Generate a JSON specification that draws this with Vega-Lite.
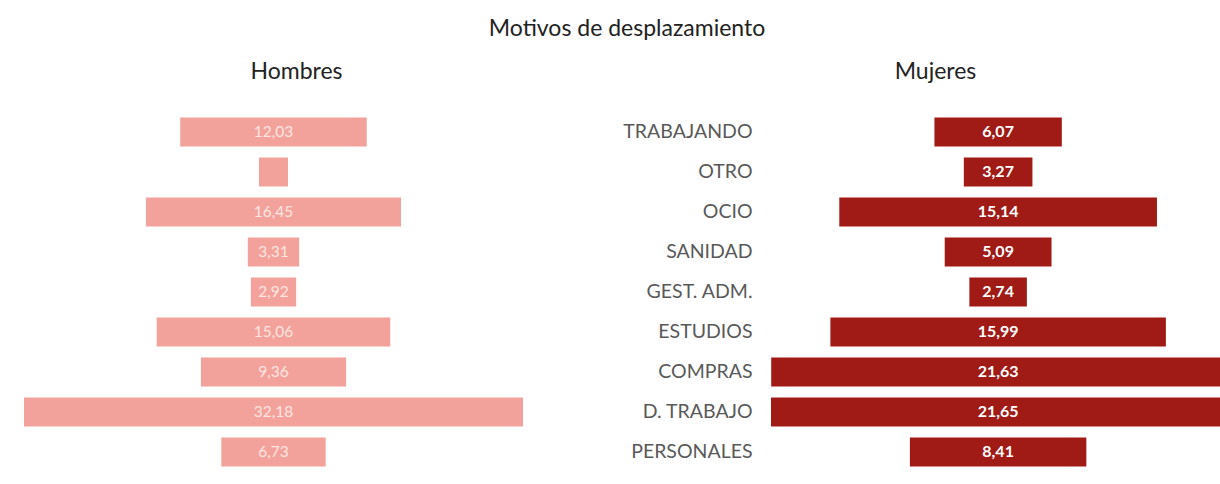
{
  "$schema": "https://vega.github.io/schema/vega-lite/v6.json",
  "padding": {"left": 24, "top": 18, "right": 0, "bottom": 0},
  "background": "white",
  "bounds": "flush",
  "config": {
    "view": {"stroke": null},
    "font": "Lato",
    "locale": {"number": {"decimal": ",", "thousands": ".", "grouping": [3], "currency": ["", " €"]}}
  },
  "title": {"text": "Motivos de desplazamiento", "fontSize": 23, "font": "Lato", "fontWeight": "normal", "color": "#222222", "anchor": "middle", "dx": 5, "offset": 20},
  "data": {"values": [
    {"motivo": "TRABAJANDO", "hombres": 12.03, "mujeres": 6.07},
    {"motivo": "OTRO", "hombres": 1.87, "mujeres": 3.27},
    {"motivo": "OCIO", "hombres": 16.45, "mujeres": 15.14},
    {"motivo": "SANIDAD", "hombres": 3.31, "mujeres": 5.09},
    {"motivo": "GEST. ADM.", "hombres": 2.92, "mujeres": 2.74},
    {"motivo": "ESTUDIOS", "hombres": 15.06, "mujeres": 15.99},
    {"motivo": "COMPRAS", "hombres": 9.36, "mujeres": 21.63},
    {"motivo": "D. TRABAJO", "hombres": 32.18, "mujeres": 21.65},
    {"motivo": "PERSONALES", "hombres": 6.73, "mujeres": 8.41}
  ]},
  "spacing": 248,
  "hconcat": [
    {
      "width": 499,
      "height": 360,
      "title": {"text": "Hombres", "fontSize": 23, "fontWeight": "normal", "color": "#222222", "anchor": "middle", "dx": 23, "offset": 28},
      "encoding": {
        "y": {"field": "motivo", "type": "nominal", "sort": null, "axis": null, "scale": {"paddingInner": 0.27, "paddingOuter": 0.135}}
      },
      "layer": [
        {
          "mark": {"type": "bar", "color": "#f3a29b"},
          "encoding": {
            "x": {"field": "hombres", "type": "quantitative", "stack": "center", "axis": null, "scale": {"domain": [0, 32.18], "nice": false}}
          }
        },
        {
          "transform": [{"filter": "datum.hombres >= 2"}],
          "mark": {"type": "text", "color": "#fde6e2", "fontSize": 15.5, "align": "center", "baseline": "middle"},
          "encoding": {
            "x": {"datum": 16.09, "type": "quantitative"},
            "text": {"field": "hombres", "type": "quantitative", "format": ".2f"}
          }
        }
      ]
    },
    {
      "width": 449,
      "height": 360,
      "title": {"text": "Mujeres", "fontSize": 23, "fontWeight": "normal", "color": "#222222", "anchor": "middle", "dx": -60, "offset": 28},
      "encoding": {
        "y": {"field": "motivo", "type": "nominal", "sort": null, "scale": {"paddingInner": 0.27, "paddingOuter": 0.135},
          "axis": {"title": null, "domain": false, "ticks": false, "labelPadding": 19, "labelFontSize": 19.5, "labelColor": "#595959", "labelFont": "Lato"}}
      },
      "layer": [
        {
          "mark": {"type": "bar", "color": "#a01a16", "clip": true},
          "encoding": {
            "x": {"field": "mujeres", "type": "quantitative", "stack": "center", "axis": null, "scale": {"domain": [0, 21.4], "nice": false}}
          }
        },
        {
          "mark": {"type": "text", "color": "white", "fontSize": 16, "fontWeight": "bold", "align": "center", "baseline": "middle"},
          "encoding": {
            "x": {"datum": 10.825, "type": "quantitative"},
            "text": {"field": "mujeres", "type": "quantitative", "format": ".2f"}
          }
        }
      ]
    }
  ]
}
